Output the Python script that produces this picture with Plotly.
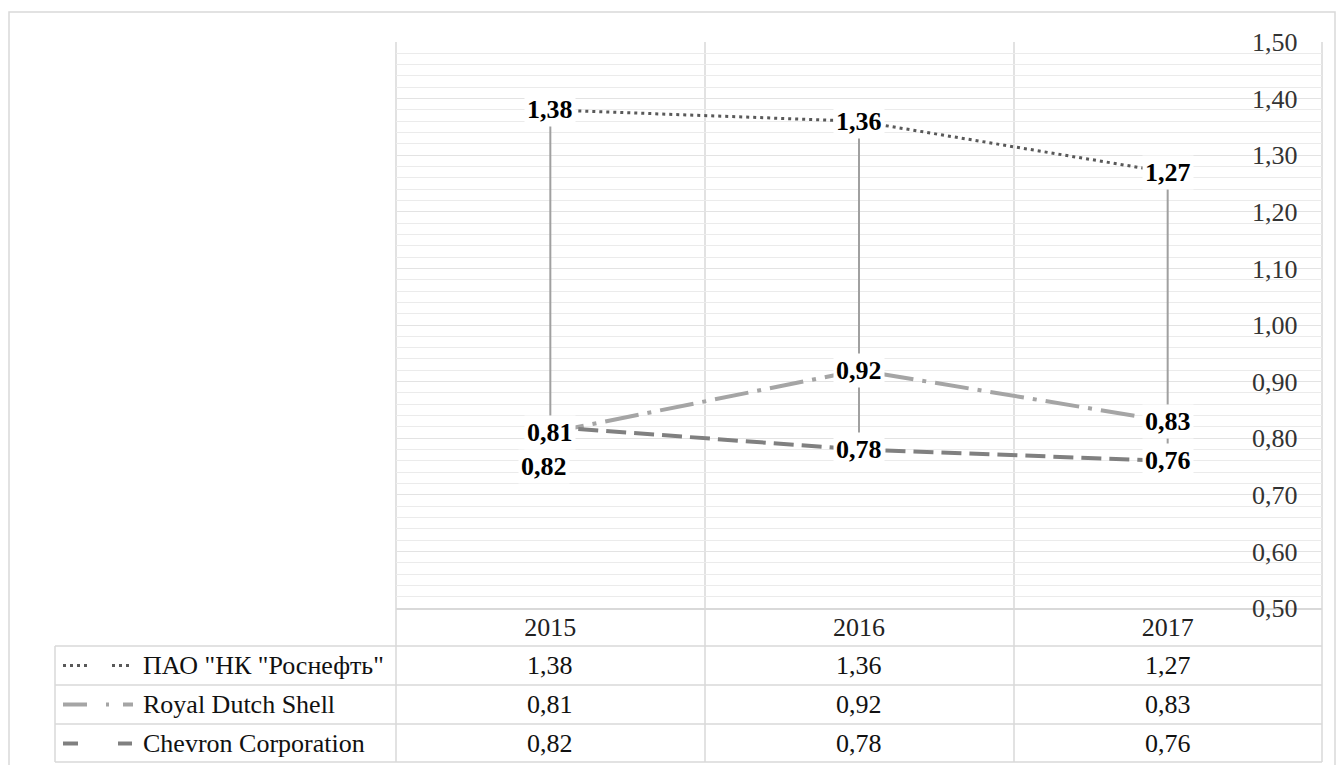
import plotly.graph_objects as go

years = ["2015", "2016", "2017"]
series_names = ['ПАО "НК "Роснефть"', "Royal Dutch Shell", "Chevron Corporation"]
rosneft = [1.38, 1.36, 1.27]
shell = [0.81, 0.92, 0.83]
chevron = [0.82, 0.78, 0.76]

all_series = [rosneft, shell, chevron]
colors = ["#595959", "#A5A5A5", "#808080"]
dashes = ["3px,4px", "34px,9px,4px,9px", "20px,8px"]
widths = [3, 4, 4]
key_dashes = ["3px,4px", "solid", "solid"]
key_segments = [[(63, 88), (112, 133)],
                [(63, 87), (106, 109), (123, 133)],
                [(63, 78), (118, 132)]]

FONT = "Liberation Serif, Times New Roman, serif"

W, H = 1344, 765
L, R, T, B = 396, 1322, 42, 608

xi = list(range(len(years)))


def px(x):
    return (x - L) / (R - L)


def py(y):
    return (B - y) / (B - T)


fig = go.Figure()

# high-low lines
hx, hy = [], []
for i in xi:
    vals = [s[i] for s in all_series]
    hx += [i, i, None]
    hy += [max(vals), min(vals), None]
fig.add_trace(go.Scatter(x=hx, y=hy, mode="lines",
                         line=dict(color="#A0A0A0", width=2),
                         hoverinfo="skip", showlegend=False))

for name, vals, c, d, w in zip(series_names, all_series, colors, dashes, widths):
    fig.add_trace(go.Scatter(x=xi, y=vals, mode="lines", name=name,
                             line=dict(color=c, width=w, dash=d),
                             showlegend=False))

annotations = []
# data labels
shifts = {(2, 0): (-6, -40)}
for si, vals in enumerate(all_series):
    for i, v in enumerate(vals):
        xs, ys = shifts.get((si, i), (0, 0))
        annotations.append(dict(
            x=i, y=v, xref="x", yref="y",
            text="<b>" + f"{v:.2f}".replace(".", ",") + "</b>",
            showarrow=False, xshift=xs, yshift=ys,
            font=dict(family=FONT, size=26, color="#000000"),
            bgcolor="white", borderpad=2))

# data table
row_lines = [646, 685, 724, 762]
row_centers = [665.5, 704.5, 743.5]
for si, (name, vals) in enumerate(zip(series_names, all_series)):
    yc = py(row_centers[si])
    annotations.append(dict(
        x=px(141), y=yc, xref="paper", yref="paper", text=name,
        showarrow=False, xanchor="left", yanchor="middle",
        font=dict(family=FONT, size=26, color="#111111")))
    for i, v in enumerate(vals):
        annotations.append(dict(
            x=i, y=yc, xref="x", yref="paper",
            text=f"{v:.2f}".replace(".", ","), showarrow=False,
            yanchor="middle",
            font=dict(family=FONT, size=26, color="#111111")))

shapes = []
grid_c = "#D9D9D9"
# outer frame
shapes.append(dict(type="rect", xref="paper", yref="paper",
                   x0=px(9), x1=px(1335), y0=py(800), y1=py(12),
                   line=dict(color=grid_c, width=1.5), layer="below"))
# table horizontal lines
for yl in row_lines:
    shapes.append(dict(type="line", xref="paper", yref="paper",
                       x0=px(55), x1=1, y0=py(yl), y1=py(yl),
                       line=dict(color=grid_c, width=1.5)))
# table vertical lines
shapes.append(dict(type="line", xref="paper", yref="paper",
                   x0=px(55), x1=px(55), y0=py(646), y1=py(762),
                   line=dict(color=grid_c, width=1.5)))
for xb in [396, 705, 1014, 1322]:
    shapes.append(dict(type="line", xref="paper", yref="paper",
                       x0=px(xb), x1=px(xb), y0=py(762), y1=1,
                       line=dict(color=grid_c, width=1.5), layer="below"))
# legend keys
for si in range(3):
    yk = py(row_centers[si])
    for a, b in key_segments[si]:
        shapes.append(dict(type="line", xref="paper", yref="paper",
                           x0=px(a), x1=px(b), y0=yk, y1=yk,
                           line=dict(color=colors[si], width=widths[si],
                                     dash=key_dashes[si])))

fig.update_layout(
    width=W, height=H,
    margin=dict(l=L, r=W - R, t=T, b=H - B),
    paper_bgcolor="white", plot_bgcolor="white",
    separators=", ",
    showlegend=False,
    font=dict(family=FONT, size=26, color="#333333"),
    xaxis=dict(range=[-0.5, len(years) - 0.5], tickvals=xi, ticktext=years,
               showgrid=False, showline=True, zeroline=False,
               linecolor=grid_c, linewidth=1.5, ticks="",
               ticklabelstandoff=-5,
               tickfont=dict(family=FONT, size=26, color="#222222"),
               fixedrange=True),
    yaxis=dict(range=[0.5, 1.5], tick0=0.5, dtick=0.1, tickformat=".2f",
               side="right", anchor="free", position=(1251 - L) / (R - L),
               showgrid=True, gridcolor="#E3E3E3", gridwidth=1,
               minor=dict(dtick=0.02, tick0=0.5, showgrid=True,
                          gridcolor="#EBEBEB", gridwidth=1),
               zeroline=False, showline=False, ticks="",
               tickfont=dict(family=FONT, size=26, color="#333333")),
    annotations=annotations,
    shapes=shapes,
)

fig.write_html("out.html")
